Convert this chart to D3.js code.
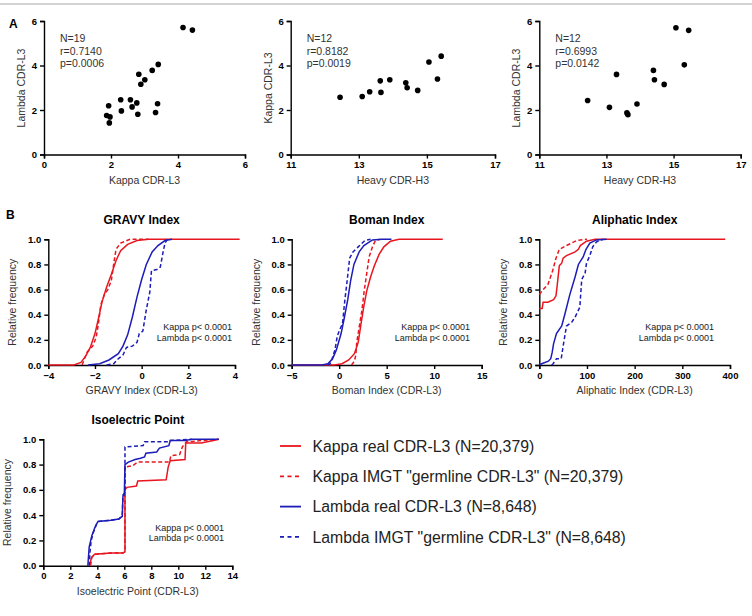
<!DOCTYPE html>
<html><head><meta charset="utf-8">
<script src="https://cdn.jsdelivr.net/npm/d3@7"></script>
<style>
body{margin:0;background:#fff;}
svg{display:block;font-family:Arial,"Liberation Sans",sans-serif;}
</style></head>
<body><svg id="c" width="752" height="616"></svg>
<script>
// ---------- Panel A data ----------
const kappaVsLambdaX = [4.15,4.43,3.41,3.23,2.83,3.01,2.89,2.29,2.58,2.77,2.63,2.31,3.39,3.33,2.80,1.93,1.87,1.97,1.95];
const kappaVsLambdaY = [5.71,5.59,4.05,3.78,3.61,3.36,3.16,2.46,2.46,2.32,2.14,1.96,2.28,1.89,1.81,2.19,1.75,1.69,1.42];
const heavyVsKappaX = [12.45,13.10,13.32,13.63,13.65,13.91,14.38,14.42,14.73,15.06,15.42,15.31];
const heavyVsKappaY = [2.57,2.61,2.82,3.31,2.79,3.36,3.22,3.00,2.88,4.16,4.42,3.39];
const heavyVsLambdaX = [12.44,13.09,13.30,13.61,13.64,13.91,14.40,14.43,14.72,15.07,15.45,15.32];
const heavyVsLambdaY = [2.43,2.12,3.60,1.87,1.79,2.27,3.78,3.36,3.15,5.70,5.58,4.03];
const statsA1 = ["N=19","r=0.7140","p=0.0006"];
const statsA2 = ["N=12","r=0.8182","p=0.0019"];
const statsA3 = ["N=12","r=0.6993","p=0.0142"];
const ticksA = [0,2,4,6];
const ticksHeavy = [11,13,15,17];

// ---------- Panel B data (cumulative curves: [x, relative frequency]) ----------
const gravyKappaReal = [[-4,0],[-2.9,0],[-2.6,0.02],[-2.4,0.07],[-2.2,0.14],[-2.0,0.25],[-1.85,0.37],[-1.7,0.5],[-1.5,0.62],[-1.3,0.72],[-1.1,0.83],[-0.9,0.91],[-0.6,0.96],[-0.2,0.99],[0.3,1.0],[4.2,1.0]];
const gravyKappaGerm = [[-2.55,0],[-2.45,0.05],[-2.35,0.1],[-2.1,0.15],[-1.95,0.22],[-1.85,0.33],[-1.75,0.48],[-1.6,0.56],[-1.45,0.6],[-1.3,0.67],[-1.2,0.8],[-1.1,0.92],[-0.9,0.97],[-0.5,1.0],[0.3,1.0]];
const gravyLambdaReal = [[-2.3,0],[-1.8,0.01],[-1.4,0.04],[-1.0,0.09],[-0.8,0.15],[-0.6,0.24],[-0.4,0.38],[-0.2,0.54],[0,0.68],[0.2,0.8],[0.45,0.9],[0.7,0.95],[1.0,0.99],[1.3,1.0]];
const gravyLambdaGerm = [[-1.5,0],[-1.2,0.01],[-1.0,0.05],[-0.8,0.08],[-0.65,0.14],[-0.4,0.15],[-0.2,0.18],[-0.1,0.25],[0.05,0.27],[0.2,0.44],[0.35,0.58],[0.42,0.75],[0.65,0.76],[0.8,0.78],[0.92,0.9],[1.0,0.97],[1.1,1.0]];

const bomanKappaReal = [[-5,0],[-0.5,0],[0.3,0.01],[1.0,0.04],[1.6,0.09],[2.0,0.18],[2.3,0.33],[2.6,0.47],[2.9,0.59],[3.3,0.7],[3.7,0.79],[4.2,0.88],[4.7,0.94],[5.4,0.985],[6.3,1.0],[10.9,1.0]];
const bomanKappaGerm = [[1.3,0],[1.6,0.03],[1.75,0.08],[1.85,0.18],[2.1,0.3],[2.4,0.44],[2.65,0.6],[2.9,0.73],[3.15,0.86],[3.5,0.94],[3.8,0.99],[4.3,1.0]];
const bomanLambdaReal = [[-5,0],[-1.8,0],[-1.2,0.01],[-0.7,0.05],[-0.3,0.12],[0.2,0.25],[0.55,0.38],[0.9,0.52],[1.2,0.67],[1.55,0.8],[2.1,0.9],[2.6,0.95],[3.5,0.995],[4.5,1.0],[5.5,1.0]];
const bomanLambdaGerm = [[-1.2,0],[-0.95,0.01],[-0.75,0.05],[-0.45,0.12],[-0.2,0.23],[0.05,0.28],[0.35,0.33],[0.6,0.52],[0.85,0.68],[1.1,0.85],[1.45,0.9],[2.0,0.94],[2.7,0.99],[3.3,1.0]];

const aliKappaReal = [[0,0.45],[6,0.45],[8,0.5],[18,0.5],[30,0.52],[35,0.55],[38,0.65],[42,0.79],[47,0.81],[50,0.85],[57,0.87],[75,0.9],[82,0.92],[86,0.95],[99,0.985],[117,1.0],[390,1.0]];
const aliKappaGerm = [[0,0.56],[8,0.6],[18,0.64],[28,0.75],[35,0.85],[42,0.92],[57,0.95],[78,0.99],[100,1.0]];
const aliLambdaReal = [[0,0],[5,0.01],[19,0.03],[24,0.05],[27,0.1],[30,0.17],[36,0.25],[47,0.31],[54,0.41],[64,0.56],[75,0.7],[82,0.8],[92,0.86],[98,0.92],[106,0.97],[120,0.995],[141,1.0]];
const aliLambdaGerm = [[26,0],[29,0.01],[36,0.05],[46,0.05],[50,0.15],[57,0.31],[68,0.34],[75,0.38],[85,0.46],[89,0.68],[96,0.73],[99,0.81],[106,0.87],[112,0.94],[120,0.98],[134,1.0]];

const pIKappaReal = [[3.45,0],[3.55,0.06],[3.8,0.09],[5.0,0.1],[5.9,0.1],[6.05,0.11],[6.05,0.6],[6.2,0.62],[6.9,0.63],[7.0,0.67],[9.1,0.68],[9.25,0.78],[9.4,0.83],[10.5,0.84],[10.55,0.97],[11.7,0.97],[12.6,0.99],[13,1.0]];
const pIKappaGerm = [[3.5,0],[3.6,0.07],[3.85,0.09],[5.0,0.1],[5.9,0.1],[6.05,0.11],[6.05,0.78],[6.6,0.79],[7.0,0.82],[9.35,0.82],[9.45,0.87],[10.1,0.88],[10.3,0.94],[10.6,0.98],[12.3,0.995],[13,1.0]];
const pILambdaReal = [[3.3,0],[3.4,0.15],[3.6,0.24],[3.85,0.31],[4.05,0.35],[5.0,0.36],[5.6,0.37],[5.85,0.39],[5.9,0.55],[6.0,0.56],[6.05,0.8],[6.3,0.82],[6.8,0.84],[7.2,0.85],[7.5,0.86],[7.6,0.89],[8.4,0.9],[8.6,0.93],[9.3,0.95],[9.4,0.99],[10.5,0.99],[11,1.0],[13,1.0]];
const pILambdaGerm = [[3.4,0],[3.45,0.1],[3.55,0.2],[3.7,0.26],[3.95,0.33],[4.1,0.35],[5.0,0.36],[5.6,0.37],[5.85,0.4],[5.9,0.56],[6.05,0.58],[6.05,0.94],[7.4,0.95],[7.5,0.98],[9.3,0.98],[9.4,0.99],[11,1.0]];

const ticksFreq = [0,0.2,0.4,0.6,0.8,1.0];
const ticksGravy = [-4,-2,0,2,4];
const ticksBoman = [-5,0,5,10,15];
const ticksAli = [0,100,200,300,400];
const ticksPI = [0,2,4,6,8,10,12,14];
const pvalueLines = ["Kappa p< 0.0001","Lambda p< 0.0001"];

const legendLabels = ["Kappa real CDR-L3 (N=20,379)","Kappa IMGT \"germline CDR-L3\" (N=20,379)","Lambda real CDR-L3 (N=8,648)","Lambda IMGT \"germline CDR-L3\" (N=8,648)"];

const RED = "#e8161f", BLUE = "#1c1cb8";
const seriesStyle = [{c:RED,d:null},{c:RED,d:"4,2.5"},{c:BLUE,d:null},{c:BLUE,d:"4,2.5"}];

const svg = d3.select("#c");

svg.append("line").attr("x1",0).attr("x2",752).attr("y1",4).attr("y2",4)
  .attr("stroke","#c4c4c4").attr("stroke-width",1.5);

function axes(g, x, y, xt, yt, xfmt, yfmt){
  const ax = g.append("g").attr("transform",`translate(0,${y.range()[0]})`)
    .call(d3.axisBottom(x).tickValues(xt).tickSize(4).tickPadding(3).tickFormat(xfmt));
  const ay = g.append("g").attr("transform",`translate(${x.range()[0]},0)`)
    .call(d3.axisLeft(y).tickValues(yt).tickSize(4).tickPadding(3).tickFormat(yfmt));
  [ax,ay].forEach(a=>{
    a.select(".domain").attr("stroke","#000").attr("stroke-width",1.4);
    a.selectAll(".tick line").attr("stroke","#000").attr("stroke-width",1.4);
    a.selectAll(".tick text").attr("fill","#000").attr("font-size",9.5).attr("font-weight","bold")
      .attr("font-family","Arial,'Liberation Sans',sans-serif");
  });
}

function scatter(cfg){
  const g = svg.append("g");
  const x = d3.scaleLinear().domain(cfg.xd).range(cfg.xr);
  const y = d3.scaleLinear().domain([0,6]).range([154.5,21]);
  axes(g,x,y,cfg.xt,ticksA,d3.format("d"),d3.format("d"));
  g.selectAll("circle").data(cfg.xs).join("circle")
    .attr("cx",d=>x(d)).attr("cy",(d,i)=>y(cfg.ys[i])).attr("r",2.8).attr("fill","#000");
  g.append("text").attr("x",(cfg.xr[0]+cfg.xr[1])/2).attr("y",184).attr("text-anchor","middle")
    .attr("font-size",10.5).attr("fill","#333").text(cfg.xl);
  g.append("text").attr("transform",`translate(${cfg.xr[0]-19},88) rotate(-90)`).attr("text-anchor","middle")
    .attr("font-size",10.5).attr("fill","#333").text(cfg.yl);
  cfg.stats.forEach((s,i)=>g.append("text").attr("x",cfg.xr[0]+16).attr("y",42+i*12.5)
    .attr("font-size",10.5).attr("fill","#333").text(s));
}

scatter({xd:[0,6],xr:[44,245],xt:ticksA,xs:kappaVsLambdaX,ys:kappaVsLambdaY,xl:"Kappa CDR-L3",yl:"Lambda CDR-L3",stats:statsA1});
scatter({xd:[11,17],xr:[290.7,495],xt:ticksHeavy,xs:heavyVsKappaX,ys:heavyVsKappaY,xl:"Heavy CDR-H3",yl:"Kappa CDR-L3",stats:statsA2});
scatter({xd:[11,17],xr:[539.3,740.7],xt:ticksHeavy,xs:heavyVsLambdaX,ys:heavyVsLambdaY,xl:"Heavy CDR-H3",yl:"Lambda CDR-L3",stats:statsA3});

function cdf(cfg){
  const g = svg.append("g");
  const x = d3.scaleLinear().domain(cfg.xd).range(cfg.xr);
  const y = d3.scaleLinear().domain([0,1]).range(cfg.yr);
  axes(g,x,y,cfg.xt,ticksFreq,d3.format("d"),d3.format(".1f"));
  const line = d3.line().x(d=>x(d[0])).y(d=>y(d[1]));
  cfg.series.forEach((s,i)=>{
    g.append("path").attr("d",line(s)).attr("fill","none")
      .attr("stroke",seriesStyle[i].c).attr("stroke-width",1.5)
      .attr("stroke-dasharray",seriesStyle[i].d);
  });
  const cx = (cfg.xr[0]+cfg.xr[1])/2;
  g.append("text").attr("x",cx).attr("y",cfg.yr[1]-15).attr("text-anchor","middle")
    .attr("font-size",12).attr("font-weight","bold").attr("fill","#000").text(cfg.title);
  g.append("text").attr("x",cx).attr("y",cfg.yr[0]+29).attr("text-anchor","middle")
    .attr("font-size",10.5).attr("fill","#333").text(cfg.xl);
  g.append("text").attr("transform",`translate(${cfg.xr[0]-32},${(cfg.yr[0]+cfg.yr[1])/2}) rotate(-90)`)
    .attr("text-anchor","middle").attr("font-size",10.5).attr("fill","#333").text("Relative frequency");
  pvalueLines.forEach((t,i)=>g.append("text").attr("x",cfg.px).attr("y",cfg.yr[0]-35+i*10.5)
    .attr("text-anchor","end").attr("font-size",9).attr("fill","#222").text(t));
}

cdf({xd:[-4,4],xr:[48.3,235],yr:[365,239.3],xt:ticksGravy,title:"GRAVY Index",xl:"GRAVY Index (CDR-L3)",px:232,
  series:[gravyKappaReal,gravyKappaGerm,gravyLambdaReal,gravyLambdaGerm]});
cdf({xd:[-5,15],xr:[291.7,481.7],yr:[365,239.3],xt:ticksBoman,title:"Boman Index",xl:"Boman Index (CDR-L3)",px:470,
  series:[bomanKappaReal,bomanKappaGerm,bomanLambdaReal,bomanLambdaGerm]});
cdf({xd:[0,400],xr:[539.3,730],yr:[365,239.3],xt:ticksAli,title:"Aliphatic Index",xl:"Aliphatic Index (CDR-L3)",px:714,
  series:[aliKappaReal,aliKappaGerm,aliLambdaReal,aliLambdaGerm]});
cdf({xd:[0,14],xr:[43.3,232.3],yr:[565.7,439.3],xt:ticksPI,title:"Isoelectric Point",xl:"Isoelectric Point (CDR-L3)",px:224,
  series:[pIKappaReal,pIKappaGerm,pILambdaReal,pILambdaGerm]});

svg.append("text").attr("x",9).attr("y",28).attr("font-size",12).attr("font-weight","bold").text("A");
svg.append("text").attr("x",6).attr("y",219).attr("font-size",12).attr("font-weight","bold").text("B");

const lg = svg.append("g");
legendLabels.forEach((t,i)=>{
  const yy = 446 + i*30.3;
  lg.append("line").attr("x1",280).attr("x2",301).attr("y1",yy).attr("y2",yy)
    .attr("stroke",seriesStyle[i].c).attr("stroke-width",1.8).attr("stroke-dasharray",seriesStyle[i].d?"4,3.5":null);
  lg.append("text").attr("x",312.5).attr("y",yy+5.7).attr("font-size",15.8).attr("fill","#222").text(t);
});
</script></body></html>
